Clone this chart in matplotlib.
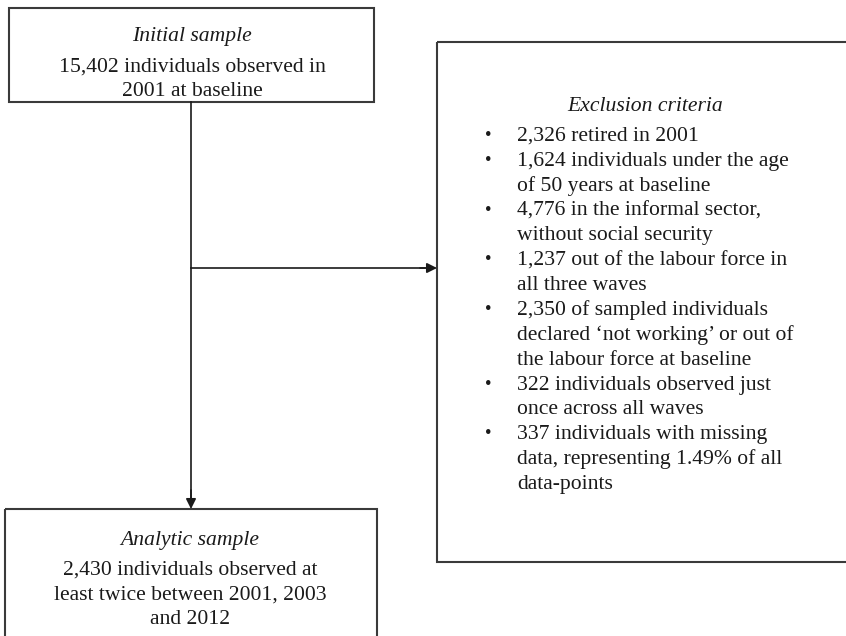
import matplotlib
matplotlib.use("Agg")
import matplotlib.pyplot as plt
from matplotlib.patches import Rectangle

initial_title = "Initial sample"
initial_lines = ["15,402 individuals observed in", "2001 at baseline"]
exclusion_title = "Exclusion criteria"
exclusion_items = [
    ["2,326 retired in 2001"],
    ["1,624 individuals under the age", "of 50 years at baseline"],
    ["4,776 in the informal sector,", "without social security"],
    ["1,237 out of the labour force in", "all three waves"],
    ["2,350 of sampled individuals", "declared \u2018not working\u2019 or out of", "the labour force at baseline"],
    ["322 individuals observed just", "once across all waves"],
    ["337 individuals with missing", "data, representing 1.49% of all", "data-points"],
]
analytic_title = "Analytic sample"
analytic_lines = ["2,430 individuals observed at", "least twice between 2001, 2003", "and 2012"]

W, H = 846, 636
fig = plt.figure(figsize=(W / 100, H / 100), dpi=100)
ax = fig.add_axes([0, 0, 1, 1])
ax.set_xlim(0, W)
ax.set_ylim(H, 0)
ax.axis("off")

FONT = "Liberation Serif"
FS = 15.6
LH = 24.85
box_kw = dict(fill=False, edgecolor="#3a3a3a", linewidth=1.5)

# boxes
ax.add_patch(Rectangle((9, 8), 365, 94, **box_kw))
ax.add_patch(Rectangle((437, 42), 420, 520, **box_kw))
ax.add_patch(Rectangle((5, 509), 372, 160, **box_kw))

# connectors
ax.plot([191, 191], [102, 498], color="#1a1a1a", lw=1.2)
ax.annotate("", xy=(191, 509), xytext=(191, 490),
            arrowprops=dict(arrowstyle="-|>,head_length=0.6,head_width=0.3", color="#1a1a1a", lw=1.2, shrinkA=0, shrinkB=0))
ax.plot([191, 425], [268, 268], color="#1a1a1a", lw=1.2)
ax.annotate("", xy=(437, 268), xytext=(420, 268),
            arrowprops=dict(arrowstyle="-|>,head_length=0.6,head_width=0.3", color="#1a1a1a", lw=1.2, shrinkA=0, shrinkB=0))

txt = dict(fontfamily=FONT, fontsize=FS, color="#1a1a1a", va="baseline")

# initial box
ax.text(192, 41, initial_title, ha="center", style="italic", **txt)
for i, s in enumerate(initial_lines):
    ax.text(192, 72 + i * 24, s, ha="center", **txt)

# exclusion box
ax.text(645, 111, exclusion_title, ha="center", style="italic", **txt)
y = 141
for item in exclusion_items:
    ax.text(488, y - 1, "\u2022", ha="center", fontfamily=FONT, fontsize=FS - 2,
            color="#1a1a1a", va="baseline")
    for s in item:
        ax.text(517, y, s, ha="left", **txt)
        y += LH

# analytic box
ax.text(190, 545, analytic_title, ha="center", style="italic", **txt)
for i, s in enumerate(analytic_lines):
    ax.text(190, 575 + i * 24.5, s, ha="center", **txt)

fig.savefig("out.png", dpi=100, facecolor="white")
